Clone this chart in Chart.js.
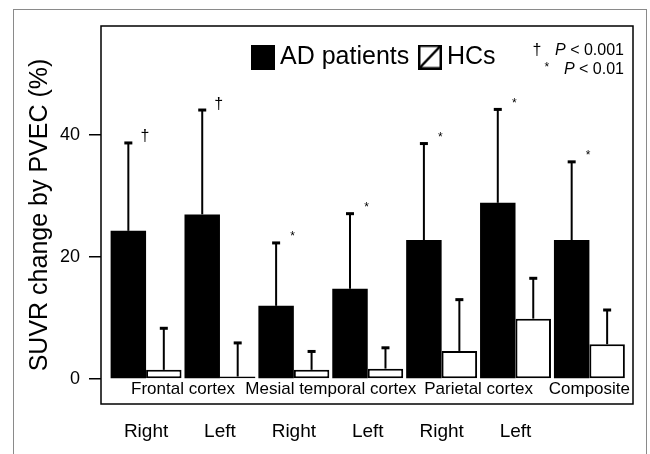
<!DOCTYPE html>
<html><head><meta charset="utf-8">
<script src="https://cdn.jsdelivr.net/npm/chart.js@4"></script>
<style>
html,body{margin:0;padding:0;background:#fff;}
#wrap{position:relative;width:650px;height:454px;overflow:hidden;}
#frame{position:absolute;left:13px;top:9px;width:632px;height:520px;border:1px solid #8a8a8a;pointer-events:none;}
canvas{position:absolute;left:0;top:0;}
</style></head><body>
<div id="wrap"><canvas id="c" width="650" height="454"></canvas><div id="frame"></div></div>
<script>
// ---- data ----
const sides = ['Right', 'Left', 'Right', 'Left', 'Right', 'Left', ''];
const regions = ['Frontal cortex', 'Frontal cortex', 'Mesial temporal cortex', 'Mesial temporal cortex',
                 'Parietal cortex', 'Parietal cortex', 'Composite'];
const seriesNames = ['AD patients', 'HCs'];
const adMean = [24.3, 27.0, 12.0, 14.8, 22.8, 28.9, 22.8];
const adSD   = [14.5, 17.2, 10.4, 12.4, 15.9, 15.4, 12.9];
const hcMean = [1.5, 0.4, 1.5, 1.7, 4.6, 9.9, 5.7];
const hcSD   = [6.9, 5.6, 3.1, 3.5, 8.5, 6.7, 5.7];
const significance = ['\u2020', '\u2020', '*', '*', '*', '*', '*'];
const yTicks = [0, 20, 40];
const yTitle = 'SUVR change by PVEC (%)';
const notes = [['\u2020', '0.001'], ['*', '0.01']];

// ---- derived ----
const regionTicks = [];
regions.forEach((r, i) => {
  let t = regionTicks.find(o => o.label === r);
  if (!t) { t = {label: r, idx: []}; regionTicks.push(t); }
  t.idx.push(i);
});
regionTicks.forEach(t => t.value = t.idx.reduce((a, b) => a + b, 0) / t.idx.length);

const FAMILY = '"Liberation Sans", Arial, sans-serif';
Chart.defaults.font.family = FAMILY;
Chart.defaults.color = '#000';

function hasFont(name) {
  const g = document.createElement('canvas').getContext('2d');
  const s = 'AD patients HCs mmmwwwiii';
  g.font = '30px monospace'; const a = g.measureText(s).width;
  g.font = '30px "' + name + '", monospace'; const b = g.measureText(s).width;
  return Math.abs(a - b) > 0.5;
}
const narrow = hasFont('Liberation Sans Narrow');
const legFamily = narrow ? '"Liberation Sans Narrow", "Liberation Sans", sans-serif' : FAMILY;
const legSize = narrow ? 30 : 25;

function makeIcon(filled) {
  const c = document.createElement('canvas'); c.width = 24; c.height = 25;
  const g = c.getContext('2d');
  if (filled) { g.fillStyle = '#000'; g.fillRect(0, 0, 24, 25); }
  else {
    g.fillStyle = '#fff'; g.fillRect(0, 0, 24, 25);
    g.strokeStyle = '#000'; g.lineWidth = 2.5;
    g.strokeRect(1.25, 1.25, 21.5, 22.5);
    g.beginPath(); g.moveTo(1.5, 23.5); g.lineTo(22.5, 1.5); g.stroke();
  }
  return c;
}
const icons = [makeIcon(true), makeIcon(false)];

// legend geometry
const psw = Math.max(1, 34 - legSize);
const mctx = document.createElement('canvas').getContext('2d');
mctx.font = legSize + 'px ' + legFamily;
const tw1 = mctx.measureText(seriesNames[0]).width;
const legPad = Math.max(0, 167 - psw - legSize / 2 - tw1);
const legCursorX = 251 + 12 - psw / 2;
const legCursorY = 57 - legSize / 2;

const XMIN = -0.61, XMAX = sides.length - 0.41;

const decor = {
  id: 'decor',
  afterLayout(chart) {
    const lg = chart.legend;
    const p = lg.options.labels.padding;
    lg.left = legCursorX - p; lg.right = 650;
    lg.top = legCursorY - p; lg.bottom = lg.top + 90;
    lg.width = lg.right - lg.left; lg.height = lg.bottom - lg.top;
  },
  afterDatasetsDraw(chart) {
    const ctx = chart.ctx, ys = chart.scales.y, ca = chart.chartArea;
    ctx.save();
    ctx.strokeStyle = '#000'; ctx.fillStyle = '#000';
    [[adMean, adSD], [hcMean, hcSD]].forEach(([m, sd], di) => {
      chart.getDatasetMeta(di).data.forEach((bar, i) => {
        const x = bar.x;
        const y0 = ys.getPixelForValue(m[i]);
        const y1 = ys.getPixelForValue(m[i] + sd[i]);
        ctx.lineWidth = 2;
        ctx.beginPath(); ctx.moveTo(x, y0); ctx.lineTo(x, y1); ctx.stroke();
        ctx.fillRect(x - 4, y1 - 1, 8, 3);
      });
    });
    // significance marks
    ctx.textAlign = 'center'; ctx.textBaseline = 'alphabetic';
    chart.getDatasetMeta(0).data.forEach((bar, i) => {
      const ty = ys.getPixelForValue(adMean[i] + adSD[i]);
      const tx = bar.x + 16.5;
      if (significance[i] === '\u2020') {
        ctx.font = '16px ' + FAMILY; ctx.fillText(significance[i], tx, ty - 1);
      } else {
        ctx.font = '12px ' + FAMILY; ctx.fillText(significance[i], tx, ty - 2);
      }
    });
    // frame
    ctx.lineWidth = 1.5;
    ctx.strokeRect(ca.left, ca.top, ca.right - ca.left, ca.bottom - ca.top);
    // notes
    const rx = ca.right - 9;
    const rowsY = [51, 69.5];
    notes.forEach((n, k) => {
      const y = rowsY[k];
      ctx.textBaseline = 'middle'; ctx.textAlign = 'right';
      ctx.font = '16px ' + FAMILY;
      const rest = ' < ' + n[1];
      ctx.fillText(rest, rx, y);
      const rw = ctx.measureText(rest).width;
      ctx.font = 'italic 16px ' + FAMILY;
      ctx.fillText('P', rx - rw, y);
      const pw = ctx.measureText('P').width;
      const ps = rx - rw - pw;
      ctx.textAlign = 'center';
      if (n[0] === '*') { ctx.font = '12px ' + FAMILY; ctx.fillText(n[0], ps - 17, y - 2); }
      else { ctx.font = '16px ' + FAMILY; ctx.fillText(n[0], ps - 18, y); }
    });
    ctx.restore();
  }
};

new Chart(document.getElementById('c'), {
  type: 'bar',
  data: {
    datasets: [
      {label: seriesNames[0], data: adMean.map((v, i) => ({x: i, y: v})),
       backgroundColor: '#000', borderColor: '#000', borderWidth: 0,
       categoryPercentage: 0.96, barPercentage: 1},
      {label: seriesNames[1], data: hcMean.map((v, i) => ({x: i, y: v})),
       backgroundColor: '#fff', borderColor: '#000', borderWidth: 2, borderSkipped: false,
       categoryPercentage: 0.96, barPercentage: 1}
    ]
  },
  options: {
    responsive: false, animation: false, devicePixelRatio: 1,
    layout: {padding: {left: 0, right: 17, top: 26, bottom: 0}},
    scales: {
      x: {
        type: 'linear', min: XMIN, max: XMAX, offset: false, bounds: 'data',
        afterBuildTicks: s => { s.ticks = sides.map((_, i) => ({value: i})); },
        ticks: {autoSkip: false, maxRotation: 0, color: '#000', font: {size: 19}, padding: 16,
                callback: (v) => sides[Math.round(v)] ?? ''},
        grid: {display: false, drawTicks: false, offset: false}, border: {display: false},
        afterFit: s => { s.height = 50; }
      },
      x2: {
        type: 'linear', axis: 'x', position: {y: 0}, min: XMIN, max: XMAX, offset: false, bounds: 'data',
        afterBuildTicks: s => { s.ticks = regionTicks.map(t => ({value: t.value})); },
        ticks: {autoSkip: false, maxRotation: 0, color: '#000', font: {size: 17}, padding: 0,
                callback: (v, i) => regionTicks[i] ? regionTicks[i].label : ''},
        grid: {display: false, drawTicks: false, offset: false}, border: {display: false}
      },
      y: {
        min: -4.1, max: 57.9,
        afterBuildTicks: s => { s.ticks = yTicks.map(v => ({value: v})); },
        ticks: {color: '#000', font: {size: 18}, padding: 9},
        grid: {drawOnChartArea: false, drawTicks: true, tickLength: 12, color: '#000', lineWidth: 1.5},
        border: {display: false},
        title: {display: true, text: yTitle, color: '#000', font: {size: 25}, padding: {top: 25, bottom: 0}},
        afterFit: s => { s.width = 101; }
      }
    },
    plugins: {
      tooltip: {enabled: false},
      legend: {
        position: 'top', align: 'start', maxHeight: 0.0001,
        labels: {
          usePointStyle: true, pointStyleWidth: psw, padding: legPad, color: '#000',
          font: {family: legFamily, size: legSize},
          generateLabels: () => seriesNames.map((n, i) => ({
            text: n, pointStyle: icons[i], fillStyle: i ? '#fff' : '#000', strokeStyle: '#000',
            lineWidth: 0, hidden: false, datasetIndex: i, fontColor: '#000'
          }))
        }
      }
    }
  },
  plugins: [decor]
});
</script>
</body></html>
